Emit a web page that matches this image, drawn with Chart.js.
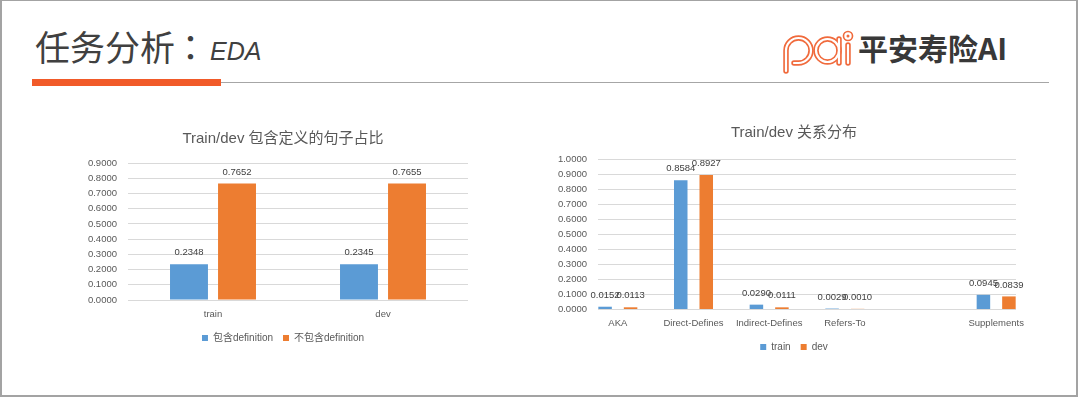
<!DOCTYPE html>
<html>
<head>
<meta charset="utf-8">
<script src="https://cdn.jsdelivr.net/npm/chart.js@4/dist/chart.umd.min.js"></script>
<style>
  html, body { margin:0; padding:0; background:#fff; }
  body { width:1080px; height:398px; position:relative; overflow:hidden; }
  .frame { position:absolute; left:0; top:0; width:1078px; height:397px; box-sizing:border-box;
           border:2px solid #a3a3a3; border-top-width:1px; }
  .t-cjk { position:absolute; left:35px; top:28px; font-family:"Noto Sans CJK SC"; font-size:35px; line-height:1; color:#404040; white-space:nowrap; }
  .t-colon { position:absolute; left:173px; top:28px; font-family:"Noto Sans CJK TC"; font-size:35px; line-height:1; color:#404040; }
  .t-eda { position:absolute; left:210px; top:39px; font-family:"Liberation Sans"; font-style:italic; font-size:25px; line-height:1; color:#404040; }
  .bar-o { position:absolute; left:32px; top:79px; width:189px; height:7px; background:#f15a29; }
  .line-g { position:absolute; left:221px; top:82px; width:828px; height:1px; background:#a6a6a6; }
  .logo-txt { position:absolute; left:858px; top:32px; font-family:"Noto Sans CJK SC"; font-weight:700; font-size:30px; line-height:1; color:#383838; white-space:nowrap; }
  .logo-svg { position:absolute; left:780px; top:30px; }
  .chart { position:absolute; }
</style>
</head>
<body>
<div class="frame"></div>
<div class="t-cjk">任务分析</div>
<div class="t-colon">：</div>
<div class="t-eda">EDA</div>
<div class="bar-o"></div>
<div class="line-g"></div>
<svg class="logo-svg" width="76" height="48" viewBox="0 0 76 48">
  <g fill="none" stroke="#f06a3c" stroke-width="5.5" stroke-linecap="round" stroke-linejoin="round">
    <path d="M6 41 L6 20.5 A12.5 12.5 0 1 1 18.5 33 L14 33"/>
    <circle cx="47.5" cy="20.5" r="11.5"/>
    <path d="M59 9 L59 33"/>
    <path d="M68 15 L68 33"/>
    <circle cx="68" cy="6" r="2.6"/>
  </g>
  <g fill="none" stroke="#ffffff" stroke-width="2.2" stroke-linecap="round" stroke-linejoin="round">
    <path d="M6 41 L6 20.5 A12.5 12.5 0 1 1 18.5 33 L14 33"/>
    <circle cx="47.5" cy="20.5" r="11.5"/>
    <path d="M59 9 L59 33"/>
    <path d="M68 15 L68 33"/>
    <circle cx="68" cy="6" r="2.6"/>
  </g>
</svg>
<div class="logo-txt">平安寿险AI</div>

<canvas id="c1" class="chart" width="470" height="250" style="left:20px;top:110px;width:470px;height:250px;"></canvas>
<canvas id="c2" class="chart" width="520" height="260" style="left:540px;top:110px;width:520px;height:260px;"></canvas>

<script>
// ---- data ----
const defTitle = 'Train/dev 包含定义的句子占比';
const defCategories = ['train', 'dev'];
const defSeriesNames = ['包含definition', '不包含definition'];
const defWith = [0.2348, 0.2345];
const defWithout = [0.7652, 0.7655];
const defAxisMax = 0.9;
const defAxisStep = 0.1;

const relTitle = 'Train/dev 关系分布';
const relCategories = ['AKA', 'Direct-Defines', 'Indirect-Defines', 'Refers-To', '', 'Supplements'];
const relSeriesNames = ['train', 'dev'];
const relTrain = [0.0152, 0.8584, 0.0290, 0.0029, null, 0.0945];
const relDev = [0.0113, 0.8927, 0.0111, 0.0010, null, 0.0839];
const relAxisMax = 1.0;
const relAxisStep = 0.1;

const BLUE = '#5b9bd5';
const ORANGE = '#ed7d31';
const TEXT = '#595959';
const GRID = '#d9d9d9';
const FONT = '"Liberation Sans", "Noto Sans CJK SC", sans-serif';

Chart.defaults.font.family = FONT;
Chart.defaults.color = TEXT;

const valueLabels = {
  id: 'valueLabels',
  afterDatasetsDraw(chart) {
    const ctx = chart.ctx;
    ctx.save();
    ctx.font = '9.5px ' + FONT;
    ctx.fillStyle = '#404040';
    ctx.textAlign = 'center';
    ctx.textBaseline = 'middle';
    chart.data.datasets.forEach((ds, i) => {
      chart.getDatasetMeta(i).data.forEach((el, j) => {
        const v = ds.data[j];
        if (v === null || v === undefined) return;
        ctx.fillText(v.toFixed(4), el.x, el.y - 11.5);
      });
    });
    ctx.restore();
  }
};

// grid extent: either chart area, or from first bar's left edge to last bar's right edge
function gridExtent(chart, fromBars) {
  if (!fromBars) return [chart.chartArea.left, chart.chartArea.right];
  const n = chart.data.datasets.length;
  const d0 = chart.getDatasetMeta(0).data;
  const d1 = chart.getDatasetMeta(n - 1).data;
  const first = d0[0], last = d1[d1.length - 1];
  return [Math.round(first.x - first.width / 2), Math.round(last.x + last.width / 2)];
}

const clippedGrid = {
  id: 'clippedGrid',
  beforeDatasetsDraw(chart, args, opts) {
    if (!opts.enabled) return;
    const y = chart.scales.y;
    const [x0, x1] = gridExtent(chart, true);
    const ctx = chart.ctx;
    ctx.save();
    ctx.strokeStyle = GRID;
    ctx.lineWidth = 1;
    y.ticks.forEach(t => {
      const py = Math.round(y.getPixelForValue(t.value)) + 0.5;
      ctx.beginPath();
      ctx.moveTo(x0, py);
      ctx.lineTo(x1, py);
      ctx.stroke();
    });
    ctx.restore();
  }
};

const yTickLabels = {
  id: 'yTickLabels',
  afterDraw(chart, args, opts) {
    const y = chart.scales.y;
    const [x0] = gridExtent(chart, opts.fromBars);
    const ctx = chart.ctx;
    ctx.save();
    ctx.font = '9.5px ' + FONT;
    ctx.fillStyle = TEXT;
    ctx.textAlign = 'right';
    ctx.textBaseline = 'middle';
    y.ticks.forEach(t => {
      ctx.fillText(Number(t.value).toFixed(4), x0 - 11, y.getPixelForValue(t.value));
    });
    ctx.restore();
  }
};

function legendOpts() {
  return {
    display: true,
    position: 'bottom',
    labels: { boxWidth: 6, boxHeight: 6, padding: 10, color: TEXT, font: { size: 10, family: FONT } }
  };
}

new Chart(document.getElementById('c1'), {
  type: 'bar',
  data: {
    labels: defCategories,
    datasets: [
      { label: defSeriesNames[0], data: defWith, backgroundColor: BLUE, categoryPercentage: 0.565, barPercentage: 0.79 },
      { label: defSeriesNames[1], data: defWithout, backgroundColor: ORANGE, categoryPercentage: 0.565, barPercentage: 0.79 }
    ]
  },
  options: {
    responsive: false,
    animation: false,
    devicePixelRatio: 1,
    layout: { padding: { left: 78, right: 22, top: 0, bottom: 7 } },
    plugins: {
      title: { display: true, text: defTitle, color: TEXT, font: { size: 15, weight: 'normal', family: FONT }, padding: { top: 20, bottom: 15 } },
      legend: legendOpts(),
      tooltip: { enabled: false },
      clippedGrid: { enabled: false },
      yTickLabels: { fromBars: false }
    },
    scales: {
      x: {
        grid: { display: false, drawTicks: false },
        border: { display: false },
        ticks: { padding: 9, color: TEXT, font: { size: 9.5 } },
        afterFit: s => { s.height = 23; }
      },
      y: {
        min: 0, max: defAxisMax,
        grid: { color: GRID, drawTicks: false },
        border: { display: false },
        ticks: { stepSize: defAxisStep, display: false },
        afterFit: s => { s.width = 30; }
      }
    }
  },
  plugins: [clippedGrid, yTickLabels, valueLabels]
});

new Chart(document.getElementById('c2'), {
  type: 'bar',
  data: {
    labels: relCategories,
    datasets: [
      { label: relSeriesNames[0], data: relTrain, backgroundColor: BLUE, categoryPercentage: 0.674, barPercentage: 0.53 },
      { label: relSeriesNames[1], data: relDev, backgroundColor: ORANGE, categoryPercentage: 0.674, barPercentage: 0.53 }
    ]
  },
  options: {
    responsive: false,
    animation: false,
    devicePixelRatio: 1,
    layout: { padding: { left: 14, right: 26, top: 0, bottom: 8 } },
    plugins: {
      title: { display: true, text: relTitle, color: TEXT, font: { size: 15, weight: 'normal', family: FONT }, padding: { top: 14, bottom: 17 } },
      legend: legendOpts(),
      tooltip: { enabled: false },
      clippedGrid: { enabled: true },
      yTickLabels: { fromBars: true }
    },
    scales: {
      x: {
        grid: { display: false, drawTicks: false },
        border: { display: false },
        ticks: { padding: 9, color: TEXT, font: { size: 9.5 }, autoSkip: false, maxRotation: 0 },
        afterFit: s => { s.height = 23; }
      },
      y: {
        min: 0, max: relAxisMax,
        grid: { display: false, drawTicks: false },
        border: { display: false },
        ticks: { stepSize: relAxisStep, display: false },
        afterFit: s => { s.width = 26; }
      }
    }
  },
  plugins: [clippedGrid, yTickLabels, valueLabels]
});
</script>
</body>
</html>
